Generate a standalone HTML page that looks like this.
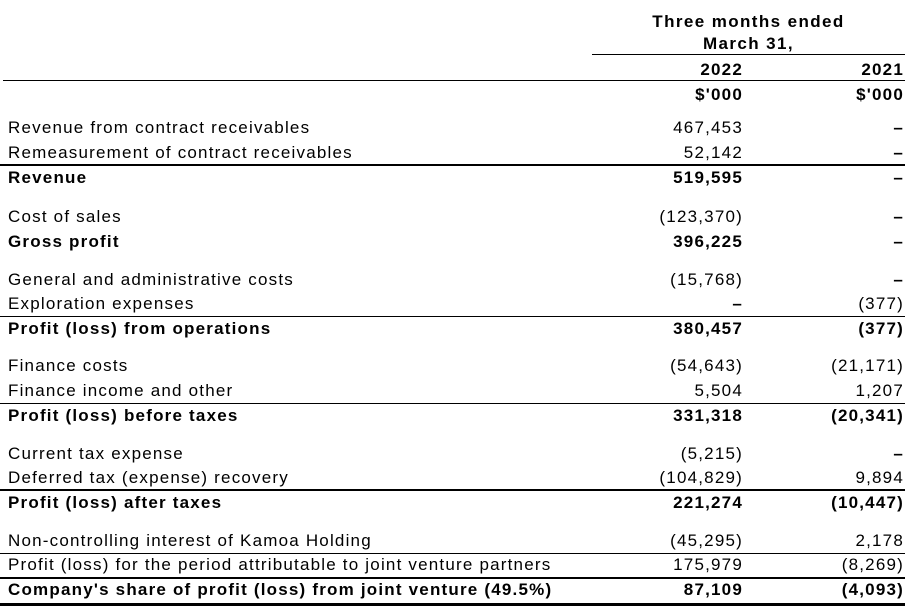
<!DOCTYPE html>
<html><head><style>
body{margin:0;width:913px;height:612px;background:#fff;position:relative;overflow:hidden;font-family:"Liberation Sans",Arial,sans-serif;font-size:17px;color:#000;letter-spacing:1.2px}
.t{position:absolute;white-space:nowrap;line-height:20px}
.l{left:8px}
.a{right:170px;text-align:right}
.b{right:9px;text-align:right}
.bd{font-weight:bold}
.d{font-weight:bold}
.ln{position:absolute;background:#000}
.h{letter-spacing:1.4px}
</style></head><body>
<div class="t bd h" style="left:592px;width:313px;text-align:center;top:12px">Three months ended</div>
<div class="t bd h" style="left:592px;width:313px;text-align:center;top:34px">March 31,</div>
<div class="ln" style="left:592px;width:313px;top:54px;height:1px"></div>
<div class="t bd a" style="top:60px">2022</div><div class="t bd b" style="top:60px">2021</div>
<div class="ln" style="left:3px;width:902px;top:80px;height:1px"></div>
<div class="t bd a" style="top:85px">$'000</div><div class="t bd b" style="top:85px">$'000</div>

<div class="t l" style="top:118px">Revenue from contract receivables</div><div class="t a" style="top:118px">467,453</div><div class="t b d" style="top:118px">–</div>
<div class="t l" style="top:143px">Remeasurement of contract receivables</div><div class="t a" style="top:143px">52,142</div><div class="t b d" style="top:143px">–</div>
<div class="ln" style="left:0;width:905px;top:164px;height:2px"></div>
<div class="t l bd" style="top:168px">Revenue</div><div class="t a bd" style="top:168px">519,595</div><div class="t b bd" style="top:168px">–</div>

<div class="t l" style="top:207px">Cost of sales</div><div class="t a" style="top:207px">(123,370)</div><div class="t b d" style="top:207px">–</div>
<div class="t l bd" style="top:232px">Gross profit</div><div class="t a bd" style="top:232px">396,225</div><div class="t b bd" style="top:232px">–</div>

<div class="t l" style="top:270px">General and administrative costs</div><div class="t a" style="top:270px">(15,768)</div><div class="t b d" style="top:270px">–</div>
<div class="t l" style="top:294px">Exploration expenses</div><div class="t a d" style="top:294px">–</div><div class="t b" style="top:294px">(377)</div>
<div class="ln" style="left:0;width:905px;top:316px;height:1px"></div>
<div class="t l bd" style="top:319px">Profit (loss) from operations</div><div class="t a bd" style="top:319px">380,457</div><div class="t b bd" style="top:319px">(377)</div>

<div class="t l" style="top:356px">Finance costs</div><div class="t a" style="top:356px">(54,643)</div><div class="t b" style="top:356px">(21,171)</div>
<div class="t l" style="top:381px">Finance income and other</div><div class="t a" style="top:381px">5,504</div><div class="t b" style="top:381px">1,207</div>
<div class="ln" style="left:0;width:905px;top:403px;height:1px"></div>
<div class="t l bd" style="top:406px">Profit (loss) before taxes</div><div class="t a bd" style="top:406px">331,318</div><div class="t b bd" style="top:406px">(20,341)</div>

<div class="t l" style="top:444px">Current tax expense</div><div class="t a" style="top:444px">(5,215)</div><div class="t b d" style="top:444px">–</div>
<div class="t l" style="top:468px">Deferred tax (expense) recovery</div><div class="t a" style="top:468px">(104,829)</div><div class="t b" style="top:468px">9,894</div>
<div class="ln" style="left:0;width:905px;top:489px;height:2px"></div>
<div class="t l bd" style="top:493px">Profit (loss) after taxes</div><div class="t a bd" style="top:493px">221,274</div><div class="t b bd" style="top:493px">(10,447)</div>

<div class="t l" style="top:531px">Non-controlling interest of Kamoa Holding</div><div class="t a" style="top:531px">(45,295)</div><div class="t b" style="top:531px">2,178</div>
<div class="ln" style="left:0;width:905px;top:553px;height:1px"></div>
<div class="t l" style="top:555px">Profit (loss) for the period attributable to joint venture partners</div><div class="t a" style="top:555px">175,979</div><div class="t b" style="top:555px">(8,269)</div>
<div class="ln" style="left:0;width:905px;top:577px;height:2px"></div>
<div class="t l bd" style="top:580px">Company's share of profit (loss) from joint venture (49.5%)</div><div class="t a bd" style="top:580px">87,109</div><div class="t b bd" style="top:580px">(4,093)</div>
<div class="ln" style="left:0;width:905px;top:603px;height:3px"></div>
</body></html>
